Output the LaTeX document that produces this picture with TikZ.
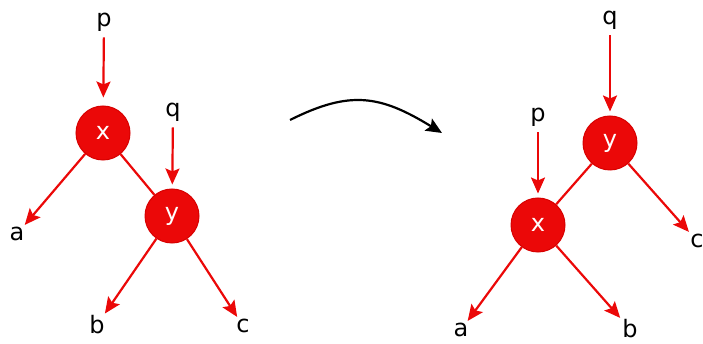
\documentclass[tikz,border=0pt]{standalone}
\usepackage{fontspec}
\setmainfont{DejaVu Sans}
\usetikzlibrary{arrows.meta}
\definecolor{rbred}{RGB}{235,8,8}
\definecolor{rbdark}{RGB}{215,0,0}
\tikzset{
  rbnode/.style={circle,fill=rbred,draw=rbdark,line width=1pt,minimum size=54pt,inner sep=0pt,text=white,font=\fontsize{24}{24}\selectfont},
  lbl/.style={inner sep=2pt,font=\fontsize{24}{24}\selectfont},
  arr/.style={draw=rbred,line width=2.2pt,-{Stealth[length=16pt,width=14pt,inset=3pt]}},
  treeline/.style={draw=rbred,line width=2.2pt},
  curvearr/.style={draw=black,line width=2.2pt,-{Stealth[length=16pt,width=14pt,inset=3pt]}}
}
\begin{document}
\begin{tikzpicture}[x=1pt,y=-1pt]
\useasboundingbox (0,0) rectangle (703,344);
% left tree
\node[lbl] (p1) at (104,22) {p};
\node[rbnode] (x1) at (103,133) {x};
\node[lbl] (q1) at (173,112) {q};
\node[rbnode] (y1) at (172,216) {y};
\node[lbl] (a1) at (17,234) {a};
\node[lbl] (b1) at (97,325) {b};
\node[lbl] (c1) at (243,326) {c};
\draw[arr,shorten <=4pt,shorten >=8pt] (p1) -- (x1);
\draw[arr,shorten <=4pt,shorten >=4pt] (q1) -- (y1);
\draw[treeline] (x1) -- (y1);
\draw[arr] (x1) -- (a1);
\draw[arr] (y1) -- (b1);
\draw[arr] (y1) -- (c1);
% transform arrow
\coordinate (s) at (290,120);
\coordinate (e) at (442,133);
\draw[curvearr] (s) .. controls (350,90) and (380,95) .. (e);
% right tree
\node[lbl] (q2) at (610,20) {q};
\node[rbnode] (y2) at (610,143) {y};
\node[lbl] (p2) at (538,117) {p};
\node[rbnode] (x2) at (538,225) {x};
\node[lbl] (a2) at (461,330) {a};
\node[lbl] (b2) at (630,329) {b};
\node[lbl] (c2) at (697,241) {c};
\draw[arr,shorten <=4pt,shorten >=4pt] (q2) -- (y2);
\draw[arr,shorten <=4pt,shorten >=4pt] (p2) -- (x2);
\draw[treeline] (y2) -- (x2);
\draw[arr] (x2) -- (a2);
\draw[arr] (x2) -- (b2);
\draw[arr] (y2) -- (c2);
\end{tikzpicture}
\end{document}
